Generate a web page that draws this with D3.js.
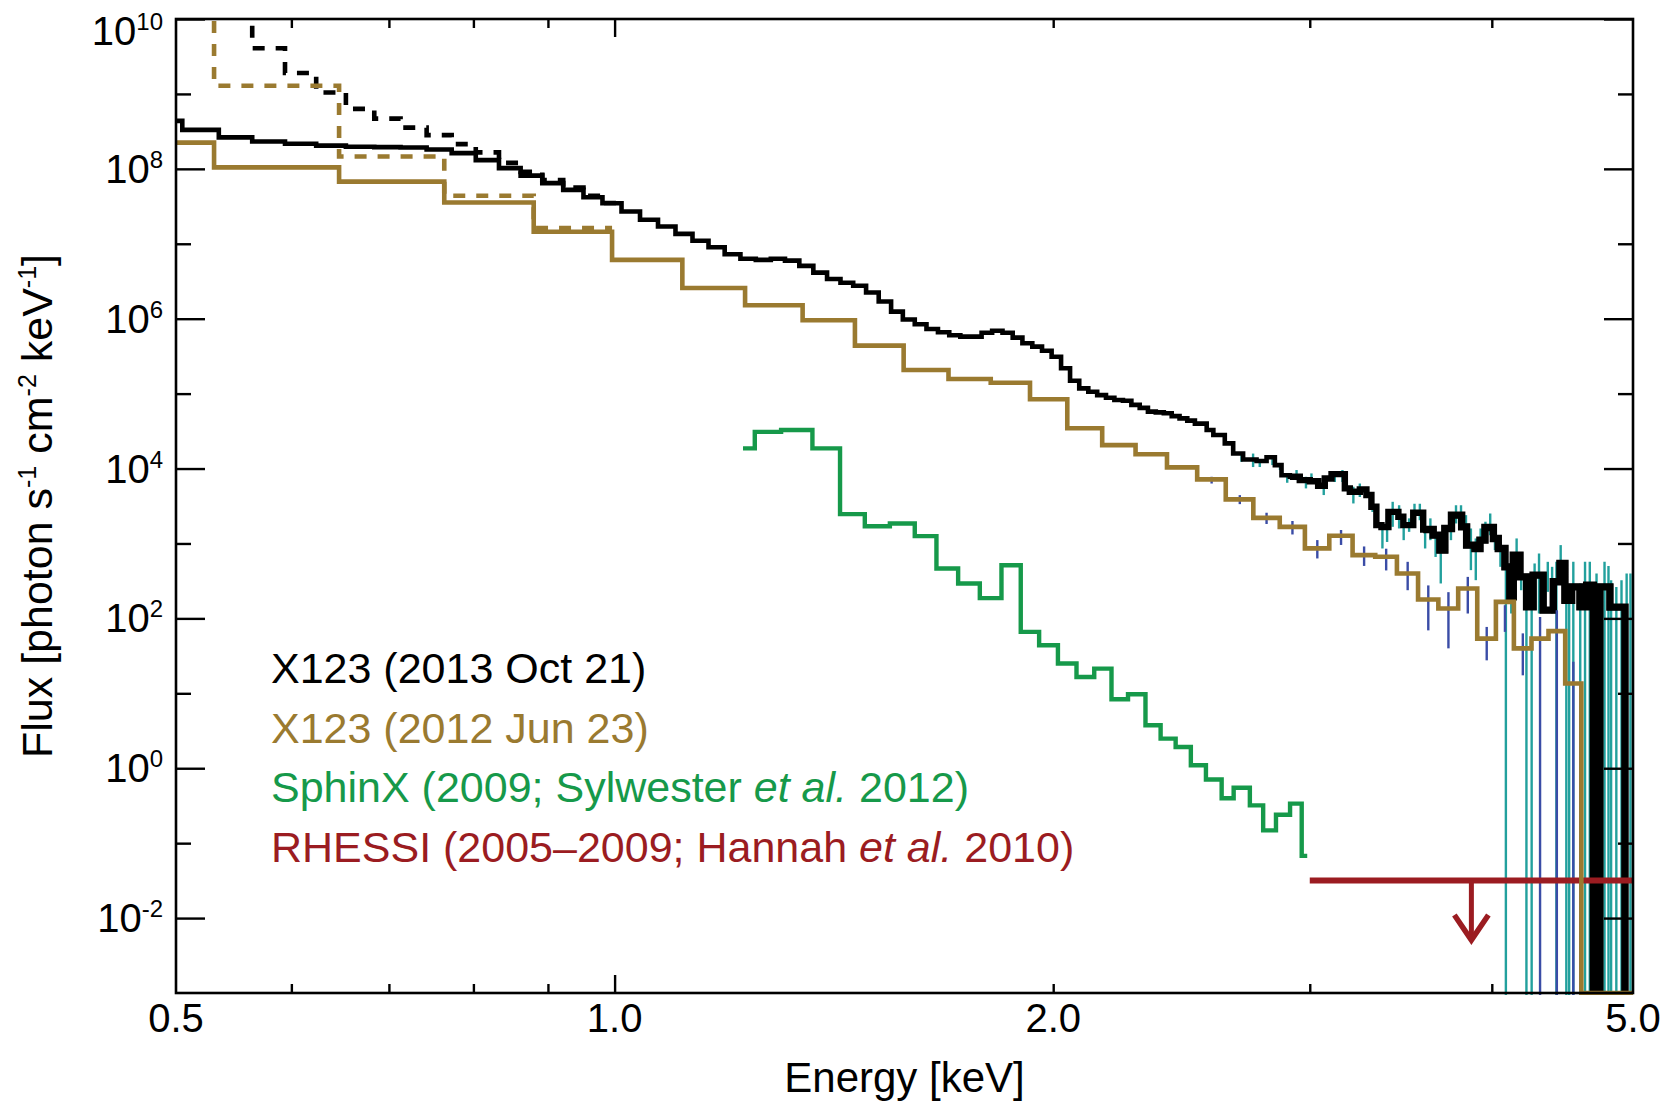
<!DOCTYPE html>
<html>
<head>
<meta charset="utf-8">
<script src="https://cdn.jsdelivr.net/npm/d3@7"></script>
<style>
  body { margin: 0; background: #fff; }
  svg { display: block; font-family: "Liberation Sans", Arial, Helvetica, sans-serif; }
</style>
</head>
<body>
<div id="chart"></div>
<script>

// energies are left bin edges in keV, fluxes are log10(photon s-1 cm-2 keV-1)
var x123_2013_E = [0.475,0.505,0.535,0.564,0.594,0.624,0.654,0.684,0.713,0.743,0.773,0.803,0.833,0.862,0.892,0.922,0.952,0.981,
  1.011,1.041,1.071,1.101,1.131,1.160,1.190,1.220,1.250,1.280,1.309,1.339,1.369,1.399,1.429,1.458,1.488,1.518,1.548,1.577,
  1.607,1.637,1.667,1.697,1.727,1.756,1.786,1.816,1.846,1.876,1.905,1.935,1.965,1.995,2.025,2.054,2.084,2.114,2.144,2.174,
  2.203,2.233,2.263,2.293,2.323,2.352,2.382,2.412,2.442,2.472,2.502,2.549,2.576,2.623,2.658,2.700,2.758,2.802,2.839,2.869,
  2.907,2.953,3.000,3.040,3.072,3.105,3.171,3.196,3.247,3.281,3.307,3.333,3.360,3.397,3.451,3.478,3.533,3.589,3.646,3.685,
  3.714,3.753,3.814,3.844,3.895,3.926,3.957,4.010,4.041,4.084,4.116,4.138,4.182,4.226,4.270,4.338,4.408,4.455,4.490,4.538,
  4.598,4.647,4.696,4.745,4.821,4.937,5.0];
var x123_2013_F = [8.64,8.52,8.42,8.365,8.334,8.31,8.295,8.29,8.285,8.258,8.21,8.116,8.01,7.91,7.81,7.72,7.62,7.54,
  7.43,7.32,7.23,7.132,7.04,6.954,6.86,6.80,6.785,6.80,6.775,6.705,6.615,6.53,6.48,6.44,6.35,6.23,6.095,5.99,
  5.925,5.863,5.82,5.78,5.76,5.76,5.813,5.84,5.813,5.747,5.672,5.627,5.573,5.493,5.338,5.172,5.07,5.025,4.98,4.945,
  4.915,4.905,4.85,4.81,4.76,4.75,4.737,4.70,4.67,4.64,4.60,4.514,4.447,4.336,4.20,4.12,4.10,4.15,4.046,3.91,
  3.89,3.846,3.83,3.77,3.868,3.926,3.735,3.69,3.722,3.646,3.49,3.245,3.22,3.422,3.356,3.245,3.41,3.187,3.111,2.911,
  3.20,3.378,3.222,2.978,2.933,3.044,3.213,3.067,2.933,2.688,2.287,2.844,2.554,2.153,2.577,2.11,2.488,2.733,2.243,2.42,
  2.153,2.443,-4,2.42,2.15,-4,-4];

var x123_2013_dashE = [0.535,0.564,0.594,0.624,0.654,0.684,0.713,0.743,0.773,0.803,0.833,0.862,0.892,0.922,0.952,0.981,1.011];
var x123_2013_dashF = [11,9.61,9.28,9.02,8.80,8.67,8.55,8.45,8.33,8.22,8.08,7.96,7.85,7.75,7.64,7.545,7.545];

// error bars on the 2013 spectrum: centre energy, low, high (log10)
var x123_2013_errE = [2.693,2.743,2.772,2.828,2.862,2.895,2.938,2.982,3.008,3.067,3.121,3.159,3.214,3.247,3.313,3.365,3.39,
  3.42,3.455,3.48,3.51,3.54,3.57,3.60,3.63,3.66,3.69,3.72,3.75,3.78,3.81,3.84,3.87,3.90,3.93,3.96,3.99,4.02,4.055,
  4.09,4.125,4.16,4.19,4.225,4.26,4.28,4.31,4.37,4.40,4.43,4.46,4.50,4.52,4.55,4.60,4.635,4.67,4.72,4.78,4.81,4.83,
  4.87,4.91,4.95,4.98];
var x123_2013_errLo = [4.09,4.02,4.02,4.046,3.98,3.81,3.846,3.735,3.80,3.646,3.82,3.82,3.534,3.62,3.42,2.933,3.02,
  3.222,3.20,3.044,3.155,3.222,3.31,2.933,3.044,2.82,2.466,3.0,3.044,3.267,3.20,3.09,2.644,2.51,2.911,3.09,3.11,2.911,2.688,
  -4,2.065,2.688,2.376,-4,-4,2.42,2.065,2.354,2.065,-4,2.60,-4,-4,-4,-4,-4,-4,-4,-4,-4,-4,
  -4,-4,-4,-4];
var x123_2013_errHi = [4.18,4.20,4.11,4.18,4.046,3.91,3.98,3.89,3.935,3.80,3.957,3.98,3.757,3.80,3.60,3.245,3.40,
  3.556,3.51,3.29,3.335,3.53,3.53,3.20,3.335,3.155,3.09,3.20,3.31,3.51,3.51,3.378,3.20,3.067,3.20,3.29,3.40,3.20,3.02,
  2.733,2.733,3.067,2.60,2.554,2.577,2.733,2.866,2.755,2.688,2.755,2.978,2.60,2.42,2.755,2.466,2.755,2.755,2.6,2.755,2.7,2.51,
  2.42,2.51,2.6,2.6];

var x123_2012_E = [0.50,0.531,0.647,0.764,0.880,0.996,1.113,1.229,1.346,1.462,1.579,1.695,1.812,1.928,2.045,2.161,2.278,
  2.394,2.511,2.627,2.744,2.861,2.977,3.094,3.210,3.327,3.443,3.560,3.676,3.793,3.909,4.026,4.142,4.259,4.375,4.492,
  4.608,4.725,4.842,4.958,5.0];
var x123_2012_F = [8.35,8.02,7.83,7.55,7.16,6.785,6.41,6.18,5.98,5.64,5.315,5.195,5.146,4.924,4.537,4.313,4.19,
  4.015,3.855,3.588,3.342,3.222,2.934,3.102,2.844,2.822,2.60,2.252,2.132,2.399,1.73,2.22,1.60,1.73,1.83,1.13,
  -3,-3,-3,-3,-3];

var x123_2012_dashE = [0.50,0.531,0.647,0.764,0.880,0.996];
var x123_2012_dashF = [11,9.11,8.165,7.64,7.21,7.21];

var x123_2012_errE = [2.569,2.686,2.802,2.919,3.036,3.152,3.269,3.385,3.502,3.618,3.735,3.851,3.968,4.084,4.201,4.317,4.433,4.550];
var x123_2012_errLo = [3.80,3.525,3.26,3.12,2.80,2.98,2.70,2.64,2.376,1.84,1.60,2.065,1.44,1.82,1.24,-4,-4,-4];
var x123_2012_errHi = [3.89,3.645,3.41,3.30,3.045,3.18,2.96,2.93,2.755,2.44,2.35,2.554,1.886,2.176,1.80,2.02,2.11,1.42];

var sphinxE = [1.225,1.248,1.301,1.367,1.428,1.485,1.545,1.607,1.663,1.721,1.781,1.843,1.900,1.956,2.015,2.075,2.134,
  2.193,2.251,2.314,2.370,2.427,2.486,2.546,2.610,2.660,2.729,2.787,2.844,2.908,2.962,2.988];
var sphinxF = [4.269,4.49,4.514,4.269,3.392,3.23,3.267,3.098,2.666,2.466,2.27,2.71,1.82,1.642,1.397,1.218,1.33,
  0.92,0.987,0.573,0.395,0.283,0.039,-0.15,-0.40,-0.26,-0.496,-0.83,-0.62,-0.473,-1.17,-1.17];

var rhessiE = [3.0, 5.0];
var rhessiLimit = -1.5;
var rhessiArrowE = 3.873;
var rhessiArrowTo = -2.32;

var xMajorTicks = [1];
var xMinorTicks = [0.6, 0.7, 0.8, 0.9, 2, 3, 4];
var xTickLabels = [0.5, 1, 2, 5];
var yMajorExp = [-2, 0, 2, 4, 6, 8, 10];
var yMinorExp = [-1, 1, 3, 5, 7, 9];

var legendItems = [
  {parts: [["X123 (2013 Oct 21)", false]], color: "#000000"},
  {parts: [["X123 (2012 Jun 23)", false]], color: "#9a7a30"},
  {parts: [["SphinX (2009; Sylwester ", false], ["et al.", true], [" 2012)", false]], color: "#16994a"},
  {parts: [["RHESSI (2005\u20132009; Hannah ", false], ["et al.", true], [" 2010)", false]], color: "#9b1c21"}
];

var W = 1677, H = 1104;
var x0 = 176, x1 = 1633, y0 = 19, y1 = 993;

var x = d3.scaleLog().domain([0.5, 5]).range([x0, x1]);
var y = d3.scaleLog().domain([1e-3, 1e10]).range([y1, y0]);

var svg = d3.select('#chart')
  .append('svg')
  .attr('width', W)
  .attr('height', H);

svg.append('defs').append('clipPath')
  .attr('id', 'plotclip')
  .append('rect')
  .attr('x', x0).attr('y', y0 - 2)
  .attr('width', x1 - x0).attr('height', y1 - y0 + 4);

var plot = svg.append('g').attr('clip-path', 'url(#plotclip)');

function pts(es, fs) {
  return es.map(function(e, i){ return [e, Math.pow(10, fs[i])]; });
}

var step = d3.line()
  .x(function(d){ return x(d[0]); })
  .y(function(d){ return y(d[1]); })
  .curve(d3.curveStepAfter);

function errBars(es, lo, hi, color) {
  plot.selectAll(null)
    .data(es)
    .enter()
      .append('line')
      .attr('x1', function(d){ return x(d); })
      .attr('x2', function(d){ return x(d); })
      .attr('y1', function(d,i){ return y(Math.pow(10, lo[i])); })
      .attr('y2', function(d,i){ return y(Math.pow(10, hi[i])); })
      .attr('stroke', color)
      .attr('stroke-width', 2.4);
}

errBars(x123_2013_errE, x123_2013_errLo, x123_2013_errHi, '#22a09d');

function drawStep(data, color, width, dash) {
  plot.append('path')
    .datum(data)
    .attr('d', step)
    .attr('fill', 'none')
    .attr('stroke', color)
    .attr('stroke-width', width)
    .attr('stroke-linejoin', 'miter')
    .attr('stroke-dasharray', dash || null);
}

var x123_2013 = pts(x123_2013_E, x123_2013_F);
drawStep(x123_2013, '#000', 4.6);
// the narrow, noisy high-energy channels print heavier in the original
drawStep(x123_2013.filter(function(d){ return d[0] >= 2.9; }), '#000', 6.4);
drawStep(x123_2013.filter(function(d){ return d[0] >= 3.55; }), '#000', 7.4);
drawStep(pts(x123_2013_dashE, x123_2013_dashF), '#000', 4.6, '12,11');

errBars(x123_2012_errE, x123_2012_errLo, x123_2012_errHi, '#3a4ca6');

drawStep(pts(sphinxE, sphinxF), '#16994a', 4.4);

// RHESSI upper limit
drawStep(pts(rhessiE, [rhessiLimit, rhessiLimit]), '#9b1c21', 6);

var ax = x(rhessiArrowE), ayTop = y(Math.pow(10, rhessiLimit)), ayTip = y(Math.pow(10, rhessiArrowTo));
plot.append('line')
  .attr('x1', ax).attr('x2', ax)
  .attr('y1', ayTop).attr('y2', ayTip - 2)
  .attr('stroke', '#9b1c21')
  .attr('stroke-width', 5);
plot.append('polyline')
  .attr('points', [[ax - 17, ayTip - 27], [ax, ayTip - 2], [ax + 17, ayTip - 27]].join(' '))
  .attr('fill', 'none')
  .attr('stroke', '#9b1c21')
  .attr('stroke-width', 5.5)
  .attr('stroke-linejoin', 'miter');

drawStep(pts(x123_2012_E, x123_2012_F), '#9a7a30', 4.6);
drawStep(pts(x123_2012_dashE, x123_2012_dashF), '#9a7a30', 4.6, '12,11');

// axes: ticks on all four sides, pointing in
function styleAxis(g) {
  g.select('.domain').remove();
  g.selectAll('.tick line').attr('stroke', '#000').attr('stroke-width', 2.4);
  g.selectAll('.tick text').remove();
}

var yMajorVals = yMajorExp.map(function(e){ return Math.pow(10, e); });
var yMinorVals = yMinorExp.map(function(e){ return Math.pow(10, e); });

svg.append('g').attr('transform', 'translate(0,' + y1 + ')')
  .call(d3.axisBottom(x).tickValues(xMajorTicks).tickSize(-18)).call(styleAxis);
svg.append('g').attr('transform', 'translate(0,' + y1 + ')')
  .call(d3.axisBottom(x).tickValues(xMinorTicks).tickSize(-9)).call(styleAxis);
svg.append('g').attr('transform', 'translate(0,' + y0 + ')')
  .call(d3.axisTop(x).tickValues(xMajorTicks).tickSize(-18)).call(styleAxis);
svg.append('g').attr('transform', 'translate(0,' + y0 + ')')
  .call(d3.axisTop(x).tickValues(xMinorTicks).tickSize(-9)).call(styleAxis);

svg.append('g').attr('transform', 'translate(' + x0 + ',0)')
  .call(d3.axisLeft(y).tickValues(yMajorVals).tickSize(-29)).call(styleAxis);
svg.append('g').attr('transform', 'translate(' + x0 + ',0)')
  .call(d3.axisLeft(y).tickValues(yMinorVals).tickSize(-15)).call(styleAxis);
svg.append('g').attr('transform', 'translate(' + x1 + ',0)')
  .call(d3.axisRight(y).tickValues(yMajorVals).tickSize(-29)).call(styleAxis);
svg.append('g').attr('transform', 'translate(' + x1 + ',0)')
  .call(d3.axisRight(y).tickValues(yMinorVals).tickSize(-15)).call(styleAxis);

svg.append('rect')
  .attr('x', x0).attr('y', y0)
  .attr('width', x1 - x0).attr('height', y1 - y0)
  .attr('fill', 'none')
  .attr('stroke', '#000')
  .attr('stroke-width', 2.6);

// tick labels
svg.selectAll('text.xlab')
  .data(xTickLabels)
  .enter()
    .append('text')
    .classed('xlab', true)
    .attr('x', function(d){ return x(d); })
    .attr('y', 1032)
    .attr('text-anchor', 'middle')
    .attr('font-size', 40)
    .text(function(d){ return d.toFixed(1); });

var ylab = svg.selectAll('text.ylab')
  .data(yMajorExp)
  .enter()
    .append('text')
    .classed('ylab', true)
    .attr('x', 163)
    .attr('y', function(d){ return y(Math.pow(10, d)) + (d === 10 ? 26 : 14); })
    .attr('text-anchor', 'end')
    .attr('font-size', 40);
ylab.append('tspan').text('10');
ylab.append('tspan')
  .attr('dy', -15)
  .attr('font-size', 24)
  .text(function(d){ return d < 0 ? '-' + (-d) : '' + d; });

// axis titles
svg.append('text')
  .attr('x', (x0 + x1) / 2)
  .attr('y', 1092)
  .attr('text-anchor', 'middle')
  .attr('font-size', 42)
  .text('Energy [keV]');

var yt = svg.append('text')
  .attr('transform', 'translate(52,' + ((y0 + y1) / 2) + ') rotate(-90)')
  .attr('text-anchor', 'middle')
  .attr('font-size', 43);
yt.append('tspan').text('Flux [photon s');
yt.append('tspan').attr('dy', -16).attr('font-size', 25).text('-1');
yt.append('tspan').attr('dy', 16).text(' cm');
yt.append('tspan').attr('dy', -16).attr('font-size', 25).text('-2');
yt.append('tspan').attr('dy', 16).text(' keV');
yt.append('tspan').attr('dy', -16).attr('font-size', 25).text('-1');
yt.append('tspan').attr('dy', 16).text(']');

// legend
var leg = svg.selectAll('text.legend')
  .data(legendItems)
  .enter()
    .append('text')
    .classed('legend', true)
    .attr('x', 271)
    .attr('y', function(d,i){ return 683 + i*59.6; })
    .attr('font-size', 43)
    .attr('fill', function(d){ return d.color; });
leg.selectAll('tspan')
  .data(function(d){ return d.parts; })
  .enter()
    .append('tspan')
    .attr('font-style', function(d){ return d[1] ? 'italic' : 'normal'; })
    .text(function(d){ return d[0]; });

</script>
</body>
</html>
